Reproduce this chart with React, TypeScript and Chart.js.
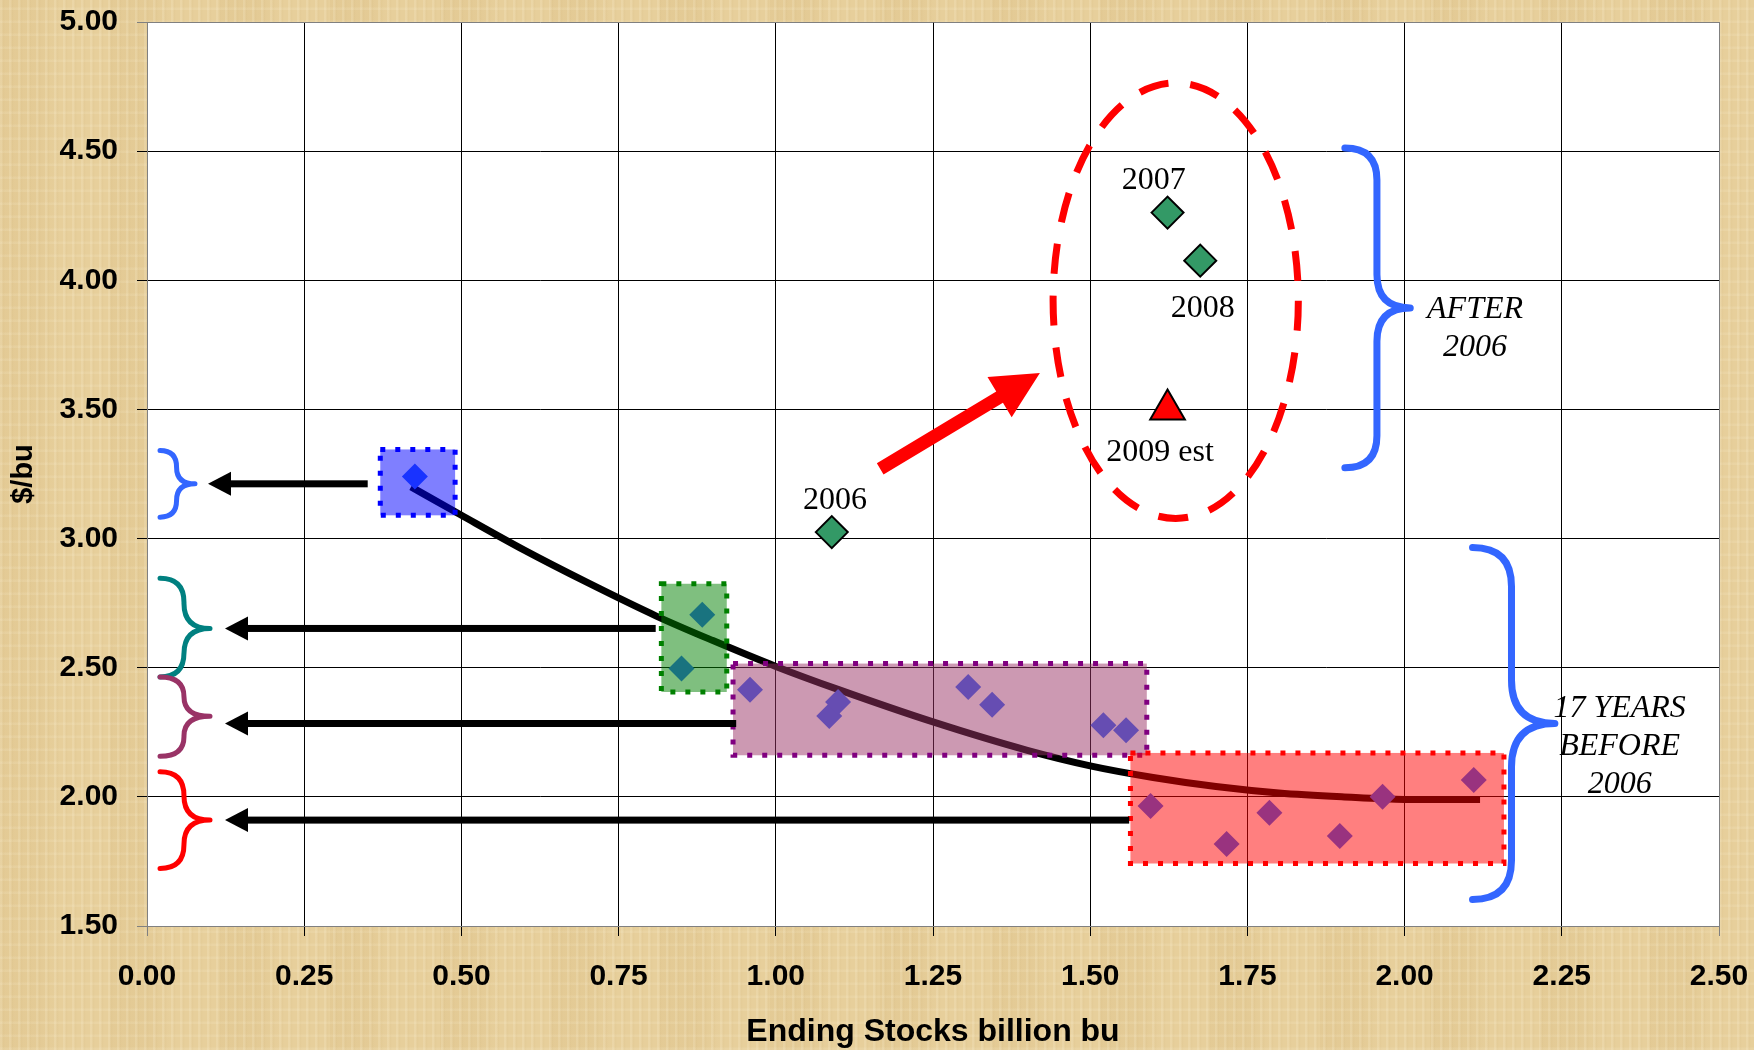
import React, { useEffect, useRef } from 'react';
import { Chart, registerables } from 'chart.js';

Chart.register(...registerables);

// ---- data ----
const beforeX = [0.426, 0.883, 0.85, 0.959, 1.085, 1.099, 1.306, 1.344, 1.521, 1.557, 1.596, 1.717, 1.785, 1.897, 1.965, 2.11];
const beforeY = [3.24, 2.705, 2.497, 2.415, 2.313, 2.367, 2.425, 2.357, 2.277, 2.258, 1.965, 1.817, 1.938, 1.848, 2.0, 2.065];
const afterLabels = ['2006', '2007', '2008'];
const afterX = [1.089, 1.623, 1.675];
const afterY = [3.025, 4.262, 4.076];
const estLabels = ['2009 est'];
const estX = [1.623];
const estY = [3.5];
const trendX = [0.42, 0.5, 0.6, 0.7, 0.81, 0.9, 1.0, 1.1, 1.25, 1.4, 1.5, 1.6, 1.7, 1.8, 1.9, 2.0, 2.12];
const trendY = [3.2, 3.09, 2.955, 2.83, 2.7, 2.605, 2.505, 2.415, 2.29, 2.18, 2.12, 2.075, 2.04, 2.015, 2.0, 1.99, 1.99];
const xTitle = 'Ending Stocks billion bu';
const yTitle = '$/bu';

// ---- annotations (in data units) ----
const boxes = [
  { x0: 0.371, x1: 0.49, y0: 3.09, y1: 3.345, fill: 'rgba(0,0,255,0.5)', stroke: '#0000FF' },
  { x0: 0.818, x1: 0.922, y0: 2.406, y1: 2.825, fill: 'rgba(0,128,0,0.5)', stroke: '#008000' },
  { x0: 0.932, x1: 1.59, y0: 2.161, y1: 2.516, fill: 'rgba(153,51,102,0.5)', stroke: '#800080' },
  { x0: 1.564, x1: 2.158, y0: 1.742, y1: 2.17, fill: 'rgba(255,0,0,0.5)', stroke: '#FF0000' },
];
const leftArrows = [
  { y: 3.212, from: 0.351, to: 0.097 },
  { y: 2.652, from: 0.809, to: 0.124 },
  { y: 2.284, from: 0.937, to: 0.124 },
  { y: 1.91, from: 1.562, to: 0.124 },
];
const leftBraces = [
  { x0: 0.0207, xs: 0.047, xt: 0.0763, top: 3.341, tip: 3.212, bot: 3.083, color: '#3366FF' },
  { x0: 0.0207, xs: 0.0588, xt: 0.1002, top: 2.846, tip: 2.652, bot: 2.464, color: '#008080' },
  { x0: 0.0207, xs: 0.0588, xt: 0.1002, top: 2.464, tip: 2.312, bot: 2.157, color: '#993366' },
  { x0: 0.0207, xs: 0.0588, xt: 0.1002, top: 2.097, tip: 1.91, bot: 1.723, color: '#FF0000' },
];
const rightBraces = [
  { x0: 1.905, xs: 1.956, xt: 2.009, top: 4.512, tip: 3.893, bot: 3.274, color: '#3366FF' },
  { x0: 2.108, xs: 2.17, xt: 2.239, top: 2.965, tip: 2.284, bot: 1.603, color: '#3366FF' },
];
const yearLabelPos = [
  { text: afterLabels[0], x: 1.094, y: 3.115 },
  { text: afterLabels[1], x: 1.601, y: 4.354 },
  { text: afterLabels[2], x: 1.679, y: 3.859 },
  { text: estLabels[0], x: 1.611, y: 3.302 },
];
const sideTexts = [
  { lines: ['AFTER', '2006'], x: 2.112, ys: [3.853, 3.706] },
  { lines: ['17 YEARS', 'BEFORE', '2006'], x: 2.342, ys: [2.309, 2.161, 2.015] },
];
const ellipse = { cx: 1.636, cy: 3.921, rx: 0.195, ry: 0.843 };
const bigArrow = { x0: 1.166, y0: 3.27, x1: 1.42, y1: 3.641 };

const annotPlugin = {
  id: 'annot',
  beforeDraw(chart: any) {
    const { ctx, chartArea: a } = chart;
    ctx.save();
    ctx.fillStyle = '#FFFFFF';
    ctx.fillRect(a.left, a.top, a.right - a.left, a.bottom - a.top);
    ctx.restore();
  },
  afterDatasetsDraw(chart: any) {
    const { ctx } = chart;
    const X = (v: number) => chart.scales.x.getPixelForValue(v);
    const Y = (v: number) => chart.scales.y.getPixelForValue(v);
    ctx.save();
    // boxes
    for (const b of boxes) {
      const x0 = X(b.x0), x1 = X(b.x1), y0 = Y(b.y1), y1 = Y(b.y0);
      ctx.fillStyle = b.fill;
      ctx.fillRect(x0, y0, x1 - x0, y1 - y0);
      ctx.setLineDash([5, 10]);
      ctx.lineWidth = 5;
      ctx.lineCap = 'butt';
      ctx.strokeStyle = b.stroke;
      ctx.strokeRect(x0, y0, x1 - x0, y1 - y0);
    }
    ctx.setLineDash([]);
    // black arrows
    ctx.fillStyle = '#000';
    for (const a of leftArrows) {
      const y = Y(a.y), xt = X(a.to), xf = X(a.from);
      ctx.fillRect(xt + 20, y - 3.5, xf - (xt + 20), 7);
      ctx.beginPath();
      ctx.moveTo(xt, y);
      ctx.lineTo(xt + 23, y - 12);
      ctx.lineTo(xt + 23, y + 12);
      ctx.closePath();
      ctx.fill();
    }
    // braces
    const brace = (b: any, lw: number) => {
      const x0 = X(b.x0), xs = X(b.xs), xt = X(b.xt);
      const yt = Y(b.top), yp = Y(b.tip), yb = Y(b.bot);
      const r1 = Math.min(xs - x0, (yp - yt) / 2);
      const r2 = Math.min(xt - xs, (yp - yt) / 2);
      ctx.strokeStyle = b.color;
      ctx.lineWidth = lw;
      ctx.lineCap = 'round';
      ctx.lineJoin = 'round';
      ctx.beginPath();
      ctx.moveTo(x0, yt);
      ctx.quadraticCurveTo(xs, yt, xs, yt + r1);
      ctx.lineTo(xs, yp - r2);
      ctx.quadraticCurveTo(xs, yp, xt, yp);
      ctx.quadraticCurveTo(xs, yp, xs, yp + r2);
      ctx.lineTo(xs, yb - r1);
      ctx.quadraticCurveTo(xs, yb, x0, yb);
      ctx.stroke();
    };
    for (const b of leftBraces) brace(b, 5);
    for (const b of rightBraces) brace(b, 7);
    // ellipse
    ctx.strokeStyle = '#FF0000';
    ctx.lineWidth = 7;
    ctx.lineCap = 'butt';
    ctx.setLineDash([30, 22]);
    ctx.beginPath();
    const ecx = X(ellipse.cx), ecy = Y(ellipse.cy);
    const erx = X(ellipse.cx + ellipse.rx) - ecx, ery = ecy - Y(ellipse.cy + ellipse.ry);
    ctx.ellipse(ecx, ecy, erx, ery, 0, 0, Math.PI * 2);
    ctx.stroke();
    ctx.setLineDash([]);
    // big red arrow
    {
      const sx = X(bigArrow.x0), sy = Y(bigArrow.y0), tx = X(bigArrow.x1), ty = Y(bigArrow.y1);
      const dx = tx - sx, dy = ty - sy, L = Math.hypot(dx, dy);
      const ux = dx / L, uy = dy / L, nx = -uy, ny = ux;
      const hl = 47, hw = 23.5, sw = 6.5;
      const bx = tx - ux * hl, by = ty - uy * hl;
      ctx.fillStyle = '#FF0000';
      ctx.beginPath();
      ctx.moveTo(sx + nx * sw, sy + ny * sw);
      ctx.lineTo(bx + nx * sw, by + ny * sw);
      ctx.lineTo(bx + nx * hw, by + ny * hw);
      ctx.lineTo(tx, ty);
      ctx.lineTo(bx - nx * hw, by - ny * hw);
      ctx.lineTo(bx - nx * sw, by - ny * sw);
      ctx.lineTo(sx - nx * sw, sy - ny * sw);
      ctx.closePath();
      ctx.fill();
    }
    // year labels
    ctx.fillStyle = '#000';
    ctx.textAlign = 'center';
    ctx.textBaseline = 'alphabetic';
    ctx.font = '32px "Liberation Serif", "Times New Roman", serif';
    for (const l of yearLabelPos) ctx.fillText(l.text, X(l.x), Y(l.y));
    ctx.font = 'italic 32px "Liberation Serif", "Times New Roman", serif';
    for (const t of sideTexts) {
      t.lines.forEach((line, i) => ctx.fillText(line, X(t.x), Y(t.ys[i])));
    }
    ctx.restore();
  },
};

const edgeColor = (v: number, lo: number, hi: number) => (Math.abs(v - lo) < 1e-6 || Math.abs(v - hi) < 1e-6 ? '#808080' : '#000000');

const resetPadding = (s: any) => {
  s.paddingTop = 0;
  s.paddingBottom = 0;
  s.paddingLeft = 0;
  s.paddingRight = 0;
};

export default function App() {
  const ref = useRef<HTMLCanvasElement | null>(null);
  useEffect(() => {
    if (!ref.current) return;
    const tickFont = { family: '"Liberation Sans", Arial, sans-serif', size: 30, weight: 'bold' as const, lineHeight: 1.15 };
    const xTitleFont = { family: '"Liberation Sans", Arial, sans-serif', size: 32, weight: 'bold' as const, lineHeight: 1.05 };
    const yTitleFont = { family: '"Liberation Sans", Arial, sans-serif', size: 29, weight: 'bold' as const, lineHeight: 1.15 };
    const chart = new Chart(ref.current, {
      type: 'scatter',
      data: {
        datasets: [
          {
            label: 'est',
            data: estX.map((x, i) => ({ x, y: estY[i] })),
            pointStyle: 'triangle',
            pointRadius: 20,
            backgroundColor: '#FF0000',
            borderColor: '#000000',
            borderWidth: 2,
          },
          {
            label: 'after',
            data: afterX.map((x, i) => ({ x, y: afterY[i] })),
            pointStyle: 'rectRot',
            pointRadius: 16,
            backgroundColor: '#339966',
            borderColor: '#000000',
            borderWidth: 2,
          },
          {
            label: 'before',
            data: beforeX.map((x, i) => ({ x, y: beforeY[i] })),
            pointStyle: 'rectRot',
            pointRadius: 13,
            backgroundColor: '#3366FF',
            borderWidth: 0,
          },
          {
            label: 'trend',
            data: trendX.map((x, i) => ({ x, y: trendY[i] })),
            showLine: true,
            pointRadius: 0,
            borderColor: '#000000',
            borderWidth: 7,
            cubicInterpolationMode: 'monotone',
            fill: false,
          } as any,
        ],
      },
      options: {
        responsive: false,
        animation: false,
        devicePixelRatio: 1,
        layout: { padding: { left: 0, top: 21, right: 35, bottom: 0 } },
        plugins: { legend: { display: false }, tooltip: { enabled: false } },
        scales: {
          x: {
            type: 'linear',
            min: 0,
            max: 2.5,
            afterFit: (s: any) => { s.height = 124; resetPadding(s); },
            ticks: { stepSize: 0.25, color: '#000', font: tickFont, padding: 23, callback: (v: any) => Number(v).toFixed(2), maxRotation: 0, autoSkip: false },
            grid: {
              color: (c: any) => edgeColor(c.tick ? c.tick.value : 0, 0, 2.5),
              tickColor: (c: any) => edgeColor(c.tick ? c.tick.value : 0, 0, 2.5),
              lineWidth: 1,
              tickLength: 10,
            },
            border: { color: '#808080', width: 1 },
            title: { display: true, text: xTitle, color: '#000', font: xTitleFont, padding: { top: 0, bottom: 1 } },
          },
          y: {
            type: 'linear',
            min: 1.5,
            max: 5,
            afterFit: (s: any) => { s.width = 147; resetPadding(s); },
            ticks: { stepSize: 0.5, color: '#000', font: tickFont, padding: 19, callback: (v: any) => Number(v).toFixed(2) },
            grid: {
              color: (c: any) => edgeColor(c.tick ? c.tick.value : 0, 1.5, 5),
              tickColor: (c: any) => edgeColor(c.tick ? c.tick.value : 0, 1.5, 5),
              lineWidth: 1,
              tickLength: 10,
            },
            border: { color: '#808080', width: 1 },
            title: { display: true, text: yTitle, color: '#000', font: yTitleFont, padding: { top: 7, bottom: 0 } },
          },
        },
      },
      plugins: [annotPlugin],
    });
    return () => chart.destroy();
  }, []);

  const bg: React.CSSProperties = {
    position: 'fixed',
    left: 0,
    top: 0,
    width: 1754,
    height: 1050,
    backgroundColor: '#E7CF9B',
    backgroundImage:
      'repeating-linear-gradient(90deg, rgba(255,248,225,0.16) 0px, rgba(255,248,225,0.16) 2px, rgba(190,160,100,0.08) 3px, transparent 5px, transparent 9px),' +
      'repeating-linear-gradient(0deg, rgba(255,248,225,0.12) 0px, rgba(255,248,225,0.12) 2px, transparent 3px, transparent 13px),' +
      'repeating-linear-gradient(90deg, rgba(200,165,100,0.10) 0px, rgba(200,165,100,0.10) 40px, transparent 60px, transparent 110px)',
  };
  return (
    <div style={bg}>
      <canvas ref={ref} width={1754} height={1050} style={{ display: 'block', width: 1754, height: 1050 }} />
    </div>
  );
}
